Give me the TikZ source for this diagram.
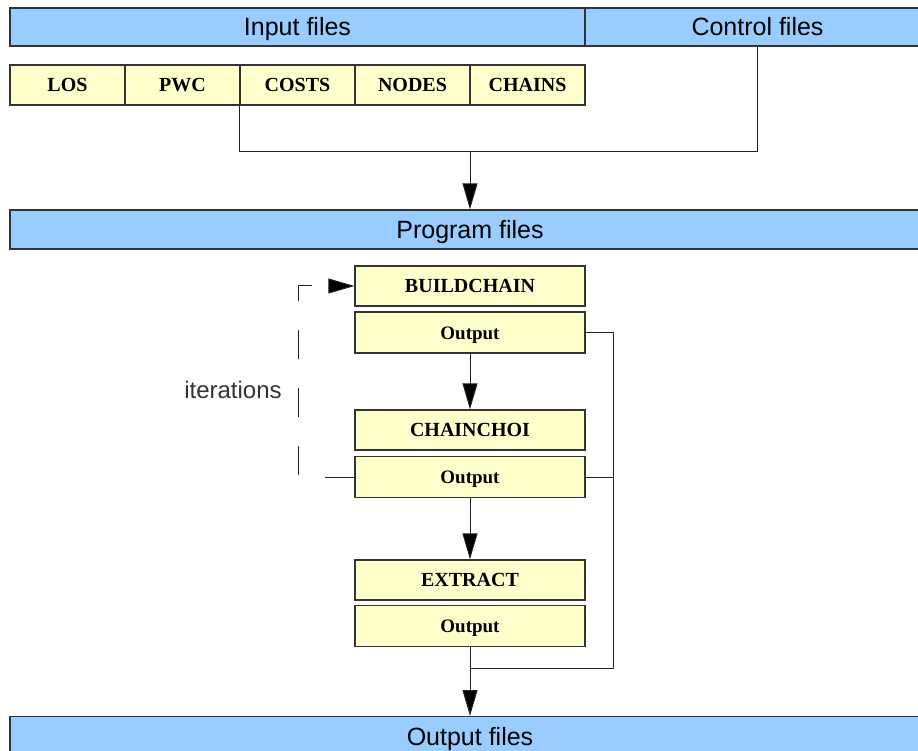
\documentclass[tikz,border=0pt]{standalone}
\usepackage{fontspec}
\setmainfont{Liberation Serif}
\setsansfont{Liberation Sans}
\usetikzlibrary{arrows.meta}
\definecolor{barblue}{HTML}{99CCFF}
\definecolor{boxyel}{HTML}{FFFFCC}
\definecolor{edge}{HTML}{333333}
\definecolor{wire}{HTML}{222222}
\begin{document}
\begin{tikzpicture}[x=1pt,y=-1pt,
  bar/.style={draw=edge,line width=1.2pt,fill=barblue,inner sep=0pt,
    text height=18pt,text depth=0pt,
    font=\sffamily\fontsize{25}{30}\selectfont},
  filebox/.style={draw=edge,line width=1.2pt,fill=boxyel,inner sep=0pt,
    minimum width=115pt,minimum height=40pt,text height=13pt,text depth=0pt,
    font=\bfseries\fontsize{20}{24}\selectfont},
  progbox/.style={draw=edge,line width=1.2pt,fill=boxyel,inner sep=0pt,
    minimum width=230pt,minimum height=40pt,text height=13pt,text depth=0pt,
    font=\bfseries\fontsize{20}{24}\selectfont},
  outbox/.style={progbox,minimum height=41pt,font=\bfseries\fontsize{19}{23}\selectfont},
  conn/.style={draw=wire,line width=1pt},
  arr/.style={conn,-{Triangle[length=26pt,width=15pt,fill=black]}},
  dashline/.style={conn,dash pattern=on 29pt off 29pt},
  lbl/.style={text=edge,font=\sffamily\fontsize{24}{28}\selectfont,inner sep=0pt}
]
\useasboundingbox (0,0) rectangle (918,751);
% top bars
\node[bar,minimum width=575pt,minimum height=38pt] (inbar) at (297.5,27) {Input files};
\node[bar,minimum width=345pt,minimum height=38pt] (ctrlbar) at (757.5,27) {Control files};
% input file boxes
\node[filebox] (los)    at (67.5,85)  {LOS};
\node[filebox] (pwc)    at (182.5,85) {PWC};
\node[filebox] (costs)  at (297.5,85) {COSTS};
\node[filebox] (nodes)  at (412.5,85) {NODES};
\node[filebox] (chains) at (527.5,85) {CHAINS};
% program bar
\node[bar,minimum width=920pt,minimum height=39pt] (progbar) at (470,229.5) {Program files};
% program boxes
\node[progbox] (build)   at (470,286)   {BUILDCHAIN};
\node[outbox]  (out1)    at (470,332.5) {Output};
\node[progbox] (choi)    at (470,430)   {CHAINCHOI};
\node[outbox]  (out2)    at (470,477)   {Output};
\node[progbox] (extract) at (470,580)   {EXTRACT};
\node[outbox]  (out3)    at (470,626)   {Output};
% output bar
\node[bar,minimum width=920pt,minimum height=45pt,anchor=north] (outbar) at (470,716) {\raisebox{2.5pt}{Output files}};
% label
\node[lbl] (iter) at (233,390) {iterations};
% coordinates
\coordinate (ym) at (0,152);
\coordinate (yb) at (0,668);
\coordinate (rx) at (613,0);
\coordinate (dx) at (298,0);
\coordinate (dend) at (313,286);
\coordinate (astart) at (329,286);
% connectors from input files
\draw[conn] (costs.south west) |- (ctrlbar.south |- ym) -- (ctrlbar.south);
\draw[arr] (progbar.north |- ym) -- (progbar.north);
% program chain
\draw[arr] (out1.south) -- (choi.north);
\draw[arr] (out2.south) -- (extract.north);
\draw[arr] (out3.south) -- (outbar.north);
% right collector
\draw[conn] (out1.east) -- (out1.east -| rx) -- (rx |- yb) -- (out3.south |- yb);
\draw[conn] (out2.east) -- (out2.east -| rx);
% iteration loop
\draw[dashline] (out2.west) -- (out2.west -| dx) -- (dx |- dend) -- (dend);
\draw[arr] (astart) -- (build.west);
\end{tikzpicture}
\end{document}
